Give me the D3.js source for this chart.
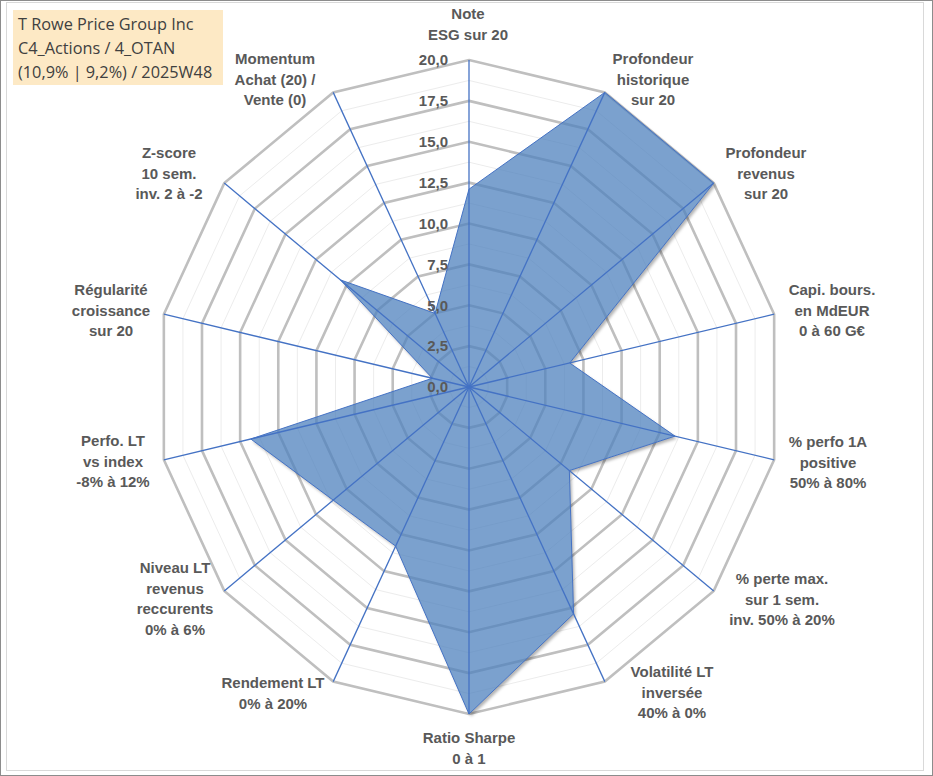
<!DOCTYPE html>
<html>
<head>
<meta charset="utf-8">
<script src="https://cdn.jsdelivr.net/npm/d3@7"></script>
<style>
  body { margin: 0; background: #fff; }
  svg { display: block; }
  .axis-label { font-family: "Liberation Sans", Arial, sans-serif; font-weight: bold; font-size: 15px; fill: #595959; }
  .tick-label { font-family: "Liberation Sans", Arial, sans-serif; font-weight: bold; font-size: 15px; fill: #595959; }
  .title-text { font-family: "Open Sans", sans-serif; font-size: 16.3px; fill: #404040; }
</style>
</head>
<body>
<svg id="chart" width="933" height="776"></svg>
<script>
// Radar data
const categories = [
  ["Note", "ESG sur 20"],
  ["Profondeur", "historique", "sur 20"],
  ["Profondeur", "revenus", "sur 20"],
  ["Capi. bours.", "en MdEUR", "0 à 60 G€"],
  ["% perfo 1A", "positive", "50% à 80%"],
  ["% perte max.", "sur 1 sem.", "inv. 50% à 20%"],
  ["Volatilité LT", "inversée", "40% à 0%"],
  ["Ratio Sharpe", "0 à 1"],
  ["Rendement LT", "0% à 20%"],
  ["Niveau LT", "revenus", "reccurents", "0% à 6%"],
  ["Perfo. LT", "vs index", "-8% à 12%"],
  ["Régularité", "croissance", "sur 20"],
  ["Z-score", "10 sem.", "inv. 2 à -2"],
  ["Momentum", "Achat (20) /", "Vente (0)"]
];
const values = [12.1, 20, 20, 6.6, 13.5, 8.2, 15.4, 20, 10.8, 11.1, 14.3, 2.4, 10.5, 5.0];
const ticks = [0, 2.5, 5, 7.5, 10, 12.5, 15, 17.5, 20];
const minorTicks = [1.25, 3.75, 6.25, 8.75, 11.25, 13.75, 16.25, 18.75];
const titleLines = ["T Rowe Price Group Inc", "C4_Actions / 4_OTAN", "(10,9% | 9,2%) / 2025W48"];

// label anchor points (centre of the first text line)
const labelPos = [
  [468, 14], [653, 59], [766, 153], [832, 290], [828, 442], [782, 579], [672, 672],
  [469, 738], [273, 683], [175, 568], [113, 441], [111, 290], [169, 153], [275, 59]
];

const svg = d3.select("#chart");
const cx = 469, cy = 387;
const rx = d3.scaleLinear().domain([0, 20]).range([0, 313]);
const ry = d3.scaleLinear().domain([0, 20]).range([0, 327]);
const n = categories.length;
const angle = d3.scaleLinear().domain([0, n]).range([0, 2 * Math.PI]);

const px = (i, v) => cx + rx(v) * Math.sin(angle(i));
const py = (i, v) => cy - ry(v) * Math.cos(angle(i));

// frame
svg.append("rect").attr("x", 0.5).attr("y", 0.5).attr("width", 932).attr("height", 775)
  .attr("fill", "#fff").attr("stroke", "#8c8c8c");
svg.append("rect").attr("x", 6.5).attr("y", 2.5).attr("width", 917).attr("height", 768)
  .attr("fill", "#fff").attr("stroke", "#d9d9d9");

const ring = v => d3.range(n).map(i => [px(i, v), py(i, v)]);
const line = d3.line().curve(d3.curveLinearClosed);
const areaPath = line(values.map((v, i) => [px(i, v), py(i, v)]));

const defs = svg.append("defs");
defs.append("filter").attr("id", "blur")
  .append("feGaussianBlur").attr("stdDeviation", 1.8);
// shadow only shows outside the area, so the transparent fill is not darkened
const mask = defs.append("mask").attr("id", "outside");
mask.append("rect").attr("width", 933).attr("height", 776).attr("fill", "#fff");
mask.append("path").attr("d", areaPath).attr("fill", "#000");

// minor rings
svg.append("g").selectAll("path").data(minorTicks).join("path")
  .attr("d", d => line(ring(d)))
  .attr("fill", "none").attr("stroke", "#ececec").attr("stroke-width", 1);

// major rings
svg.append("g").selectAll("path").data(ticks.slice(1)).join("path")
  .attr("d", d => line(ring(d)))
  .attr("fill", "none").attr("stroke", "#bfbfbf").attr("stroke-width", 2.6);

// shadow
svg.append("g").attr("mask", "url(#outside)")
  .append("path").attr("d", areaPath)
  .attr("transform", "translate(2,2.5)")
  .attr("fill", "#000").attr("fill-opacity", 0.3)
  .attr("filter", "url(#blur)");

// series area
svg.append("path")
  .attr("d", areaPath)
  .attr("fill", "#4f81bd").attr("fill-opacity", 0.75)
  .attr("stroke", "#4472c4").attr("stroke-width", 1);

// spokes
svg.append("g").selectAll("line").data(d3.range(n)).join("line")
  .attr("x1", cx).attr("y1", cy)
  .attr("x2", i => px(i, 20)).attr("y2", i => py(i, 20))
  .attr("stroke", "#4472c4").attr("stroke-width", 1.3);

// tick labels
svg.append("g").selectAll("text").data(ticks).join("text")
  .attr("class", "tick-label")
  .attr("x", cx - 21).attr("y", d => cy - ry(d))
  .attr("dy", "0.35em").attr("text-anchor", "end")
  .text(d => d3.format(".1f")(d).replace(".", ","));

// category labels
const lab = svg.append("g").selectAll("text").data(categories).join("text")
  .attr("class", "axis-label").attr("text-anchor", "middle")
  .attr("transform", (d, i) => `translate(${labelPos[i][0]},${labelPos[i][1]})`);
lab.selectAll("tspan").data(d => d).join("tspan")
  .attr("x", 0).attr("y", (d, j) => j * 20.5).attr("dy", "0.35em")
  .text(d => d);

// title box
const tb = svg.append("g");
tb.append("rect").attr("x", 13).attr("y", 10).attr("width", 210).attr("height", 75)
  .attr("fill", "#fde9c5");
tb.selectAll("text").data(titleLines).join("text")
  .attr("class", "title-text")
  .attr("x", 18).attr("y", (d, i) => 24 + i * 24).attr("dy", "0.35em")
  .text(d => d);
</script>
</body>
</html>
